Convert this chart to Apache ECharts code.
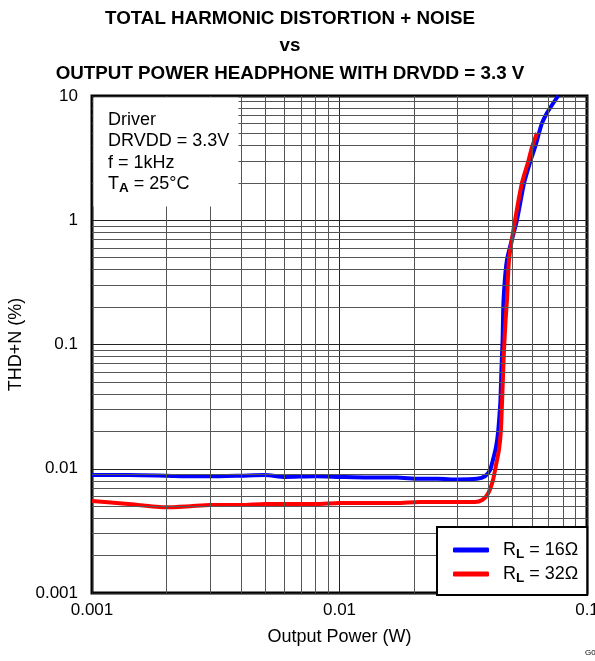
<!DOCTYPE html>
<html>
<head>
<meta charset="utf-8">
<script src="https://cdn.jsdelivr.net/npm/echarts@6/dist/echarts.min.js"></script>
<style>
  html, body { margin: 0; padding: 0; background: #fff; }
  #chart { width: 595px; height: 661px; }
</style>
</head>
<body>
<div id="chart"></div>
<script>
'use strict';

// output power (W) vs THD+N (%)
var power16 = [0.001, 0.0014, 0.002, 0.0025, 0.003, 0.004, 0.005, 0.006, 0.008, 0.01, 0.013, 0.017, 0.021, 0.025, 0.03, 0.0359, 0.0387, 0.0406, 0.0417, 0.0429, 0.0437, 0.0443, 0.0447, 0.0451, 0.0456, 0.046, 0.0475, 0.0521, 0.0557, 0.0589, 0.0617, 0.064, 0.0658, 0.0689, 0.0722, 0.0764];
var thd16 = [0.0089, 0.0089, 0.0088, 0.0087, 0.0087, 0.0088, 0.0089, 0.0086, 0.0087, 0.0086, 0.0085, 0.0085, 0.0083, 0.0083, 0.0082, 0.0083, 0.0087, 0.0098, 0.0118, 0.015, 0.0194, 0.0271, 0.0357, 0.0623, 0.109, 0.228, 0.479, 1.0, 2.0, 2.94, 3.89, 5.04, 6.06, 7.3, 8.46, 10];

var power32 = [0.001, 0.0014, 0.002, 0.0025, 0.003, 0.004, 0.005, 0.006, 0.008, 0.01, 0.013, 0.017, 0.021, 0.025, 0.03, 0.0353, 0.0377, 0.0398, 0.0417, 0.0429, 0.0441, 0.0449, 0.0454, 0.0462, 0.0469, 0.0475, 0.0484, 0.0512, 0.0546, 0.0578, 0.06, 0.0628];
var thd32 = [0.0055, 0.0052, 0.0049, 0.005, 0.0051, 0.0051, 0.0052, 0.0052, 0.0052, 0.0053, 0.0053, 0.0053, 0.0054, 0.0054, 0.0054, 0.0054, 0.0056, 0.0063, 0.0081, 0.0107, 0.0142, 0.0205, 0.0357, 0.0903, 0.158, 0.228, 0.479, 1.0, 2.0, 2.94, 3.89, 5.04];

var loadNames = ['16Ω', '32Ω'];

// decades that get the 2..9 minor grid lines
var xDecades = [0.001, 0.01];
var yDecades = [0.001, 0.01, 0.1, 1];
var minorSteps = [2, 3, 4, 5, 6, 7, 8, 9];

var annotation = ['Driver', 'DRVDD = 3.3V', 'f = 1kHz'];

function pairs(xs, ys) {
  return xs.map(function (x, i) { return [x, ys[i]]; });
}

function tidy(v) {
  return String(parseFloat(Number(v).toPrecision(6)));
}

//minor grid lines as mark lines
var minorLines = [];
xDecades.forEach(function (d) {
  minorSteps.forEach(function (m) { minorLines.push({ xAxis: d * m }); });
});
yDecades.forEach(function (d) {
  minorSteps.forEach(function (m) { minorLines.push({ yAxis: d * m }); });
});

var font = 'Liberation Sans, Arial, sans-serif';
var subRich = {
  r: { fontSize: 18, fontFamily: font, color: '#000', lineHeight: 20 },
  p: { fontSize: 18, fontFamily: font, color: '#000', lineHeight: 20, padding: [0, 0, 0, 9] },
  s: { fontSize: 13.5, fontFamily: font, fontWeight: 'bold', color: '#000', lineHeight: 14, padding: [8, 0, 0, 0] }
};

var chart = echarts.init(document.getElementById('chart'));

var graphics = [{
  type: 'rect',
  shape: { x: 93.5, y: 97.5, width: 145, height: 109 },
  style: { fill: '#fff' },
  z: 50
}];
annotation.forEach(function (t, i) {
  graphics.push({
    type: 'text',
    x: 108, y: 120 + i * 21.4,
    style: { text: t, font: '18px ' + font, fill: '#000', textVerticalAlign: 'middle' },
    z: 51
  });
});
graphics.push({
  type: 'text',
  x: 108, y: 184,
  style: { text: '{r|T}{s|A}{r| = 25°C}', rich: subRich, textVerticalAlign: 'middle' },
  z: 51
});
graphics.push({
  type: 'text',
  x: 585, y: 653,
  style: { text: 'G001', font: '8px ' + font, fill: '#000', textVerticalAlign: 'middle' },
  z: 51
});

chart.setOption({
  animation: false,
  backgroundColor: '#fff',
  title: {
    text: 'TOTAL HARMONIC DISTORTION + NOISE\nvs\nOUTPUT POWER HEADPHONE WITH DRVDD = 3.3 V',
    left: 285,
    top: 0,
    textAlign: 'center',
    textStyle: { fontFamily: font, fontSize: 18.8, fontWeight: 'bold', color: '#000', lineHeight: 27.5 }
  },
  grid: {
    left: 92, right: 8, top: 96, bottom: 68,
    outerBoundsMode: 'none',
    show: true, borderColor: '#000', borderWidth: 3, backgroundColor: 'transparent'
  },
  legend: {
    data: loadNames,
    orient: 'vertical',
    left: 437, top: 527,
    z: 60,
    icon: 'roundRect', itemWidth: 36, itemHeight: 5, itemGap: 2,
    padding: [12, 9, 10, 16],
    backgroundColor: '#fff', borderColor: '#000', borderWidth: 2,
    selectedMode: false,
    formatter: function (name) { return '{p|R}{s|L}{r| = ' + name + '}'; },
    textStyle: { rich: subRich }
  },
  xAxis: {
    type: 'log', logBase: 10, min: 0.001, max: 0.1,
    name: 'Output Power (W)', nameLocation: 'middle', nameGap: 35,
    nameTextStyle: { fontFamily: font, fontSize: 18, color: '#000' },
    axisLine: { show: false },
    axisTick: { show: false },
    axisLabel: { fontFamily: font, fontSize: 17, color: '#000', margin: 9, showMinLabel: true, showMaxLabel: true, formatter: tidy },
    splitLine: { show: true, lineStyle: { color: '#222', width: 1 } }
  },
  yAxis: {
    type: 'log', logBase: 10, min: 0.001, max: 10,
    name: 'THD+N (%)', nameLocation: 'middle', nameGap: 53,
    nameTextStyle: { fontFamily: font, fontSize: 18, color: '#000' },
    axisLine: { show: false },
    axisTick: { show: false },
    axisLabel: { fontFamily: font, fontSize: 17, color: '#000', margin: 14, showMinLabel: true, showMaxLabel: true, formatter: tidy },
    splitLine: { show: true, lineStyle: { color: '#222', width: 1 } }
  },
  series: [
    {
      name: 'grid',
      type: 'line',
      data: [],
      silent: true,
      markLine: {
        silent: true,
        symbol: 'none',
        precision: 10,
        label: { show: false },
        lineStyle: { color: '#555', width: 1, type: 'solid' },
        emphasis: { disabled: true },
        data: minorLines
      }
    },
    {
      name: loadNames[0],
      type: 'line',
      data: pairs(power16, thd16),
      showSymbol: false,
      smooth: 0.2,
      lineStyle: { color: '#0000ff', width: 4 },
      itemStyle: { color: '#0000ff' }
    },
    {
      name: loadNames[1],
      type: 'line',
      data: pairs(power32, thd32),
      showSymbol: false,
      smooth: 0.2,
      lineStyle: { color: '#ff0000', width: 4 },
      itemStyle: { color: '#ff0000' }
    }
  ],
  graphic: graphics
});
</script>
</body>
</html>
